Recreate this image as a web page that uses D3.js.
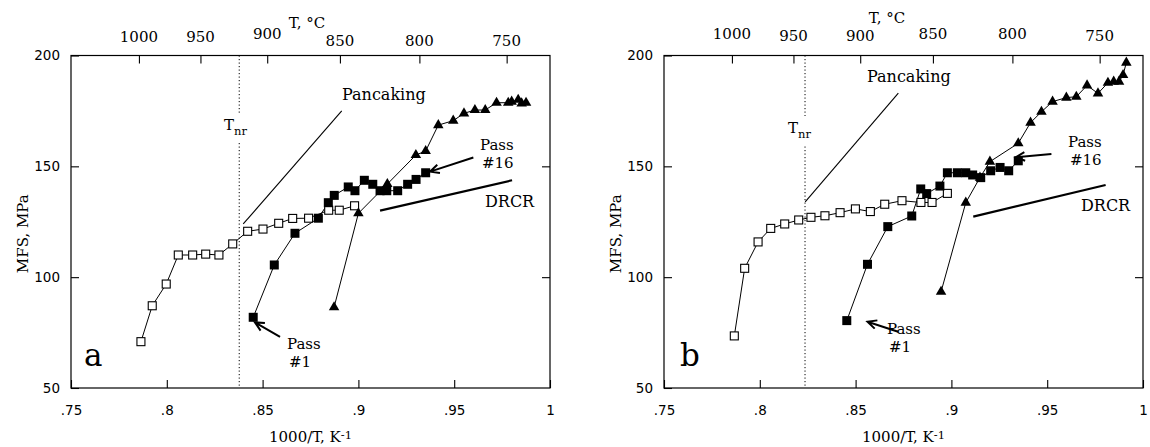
<!DOCTYPE html>
<html><head><meta charset="utf-8">
<script src="https://cdn.jsdelivr.net/npm/d3@7"></script>
<style>body{margin:0;background:#fff}svg{display:block}</style>
</head><body>
<svg id="chart" width="1150" height="447"></svg>
<script>
// ---------- data ----------
const xTickValues = [0.75, 0.8, 0.85, 0.9, 0.95, 1.0];
const xTickLabels = [".75", ".8", ".85", ".9", ".95", "1"];
const yTickValues = [50, 100, 150, 200];
const topTempTicks = [1000, 950, 900, 850, 800, 750];

// Panel a
const aOpenX = [0.7865, 0.7924, 0.7997, 0.806, 0.8135, 0.8203, 0.8272, 0.8344, 0.8422, 0.8502, 0.8584, 0.8657, 0.874, 0.8845, 0.89, 0.898];
const aOpenY = [70.9, 87.1, 96.9, 110, 110, 110.4, 110, 115, 120.7, 121.7, 124.3, 126.5, 126.6, 130.2, 130.2, 132.2];
const aFilledX = [0.8451, 0.8561, 0.8669, 0.8791, 0.8843, 0.8874, 0.8947, 0.8982, 0.9031, 0.9075, 0.9113, 0.9148, 0.9205, 0.9257, 0.9301, 0.9351];
const aFilledY = [81.9, 105.5, 119.8, 126.6, 133.6, 136.9, 140.7, 139, 143.7, 141.9, 139, 139, 139, 141.9, 144.1, 147.1];
const aTriX = [0.8873, 0.9, 0.9151, 0.93, 0.9351, 0.9417, 0.9495, 0.9551, 0.9608, 0.9662, 0.9721, 0.9782, 0.98, 0.9834, 0.9852, 0.9875];
const aTriY = [86.4, 128.8, 142, 155.1, 156.9, 168.6, 170.6, 173.9, 175.4, 175.4, 178.7, 178.7, 179.2, 180, 178.4, 178.7];
const aTnr = 0.8378;
const aPancaking = [[0.8399, 124], [0.8913, 175]];
const aDRCR = [[0.9113, 130], [0.9802, 143.7]];
const aPass1Arrow = [[0.8591, 73.1], [0.846, 79.6]];
const aPass16Arrow = [[0.96, 154], [0.9374, 147.6]];

// Panel b
const bOpenX = [0.7867, 0.7921, 0.7991, 0.8057, 0.813, 0.8203, 0.8267, 0.834, 0.8419, 0.8499, 0.8577, 0.8652, 0.8742, 0.8841, 0.8899, 0.8979];
const bOpenY = [73.5, 104, 115.9, 122, 124, 125.8, 127, 127.7, 129.1, 130.8, 129.6, 132.9, 134.5, 133.7, 133.7, 137.8];
const bFilledX = [0.8454, 0.8562, 0.8668, 0.8793, 0.884, 0.8871, 0.894, 0.8979, 0.9031, 0.9075, 0.9111, 0.9153, 0.9205, 0.9254, 0.9299, 0.9349];
const bFilledY = [80.4, 105.8, 122.8, 127.6, 139.8, 137.7, 141.1, 147.1, 147.1, 147.1, 146.1, 144.9, 148, 149.5, 148, 152.5];
const bTriX = [0.8946, 0.9075, 0.9149, 0.9201, 0.9349, 0.9413, 0.947, 0.9528, 0.96, 0.9652, 0.9708, 0.9765, 0.9817, 0.9847, 0.9875, 0.9896, 0.9913];
const bTriY = [93.4, 133.6, 144.9, 152.1, 160.4, 169.7, 174.6, 179.2, 181, 181.4, 186.5, 182.9, 187.7, 188.2, 188.2, 191.2, 196.8];
const bTnr = 0.8236;
const bPancaking = [[0.8237, 134], [0.8723, 183]];
const bDRCR = [[0.9114, 127.3], [0.9805, 141.6]];
const bPass1Arrow = [[0.8722, 75.4], [0.8562, 79.9]];
const bPass16Arrow = [[0.9522, 155.6], [0.9336, 154.1]];

// ---------- layout ----------
const SERIF = "'DejaVu Serif', 'Liberation Serif', serif";
const SANS = "'DejaVu Sans', Verdana, sans-serif";
const svg = d3.select("#chart");
svg.append("rect").attr("width", 1150).attr("height", 447).attr("fill", "#fff");

const zip = (xs, ys) => xs.map((x, i) => [x, ys[i]]);

const panels = [
  { left: 71, right: 550, letter: "a",
    open: zip(aOpenX, aOpenY), filled: zip(aFilledX, aFilledY), tri: zip(aTriX, aTriY),
    tnr: aTnr, pancaking: aPancaking, drcr: aDRCR, p1: aPass1Arrow, p16: aPass16Arrow,
    topDy: [36, 36, 33, 40, 40, 40], topTitle: {x: 307, y: 22},
    pancText: {x: 342, y: 100}, drcrText: {x: 485, y: 207},
    p16Text: {x: 480, y: 150}, p1Text: {x: 287, y: 349},
    tnrText: {x: 224, y: 130}, yTitleX: 23, letterPos: {x: 84, y: 366} },
  { left: 664, right: 1143, letter: "b",
    open: zip(bOpenX, bOpenY), filled: zip(bFilledX, bFilledY), tri: zip(bTriX, bTriY),
    tnr: bTnr, pancaking: bPancaking, drcr: bDRCR, p1: bPass1Arrow, p16: bPass16Arrow,
    topDy: [33, 35, 35, 33, 33, 35], topTitle: {x: 887, y: 17},
    pancText: {x: 867, y: 82}, drcrText: {x: 1081, y: 211},
    p16Text: {x: 1068, y: 147}, p1Text: {x: 887, y: 334},
    tnrText: {x: 788, y: 133}, yTitleX: 616, letterPos: {x: 680, y: 366} }
];
const TOP = 55.5, BOTTOM = 388;

panels.forEach(p => {
  const g = svg.append("g");
  const x = d3.scaleLinear().domain([0.75, 1.0]).range([p.left, p.right]);
  const y = d3.scaleLinear().domain([50, 200]).range([BOTTOM, TOP]);

  // frame
  g.append("rect").attr("x", p.left).attr("y", TOP)
    .attr("width", p.right - p.left).attr("height", BOTTOM - TOP)
    .attr("fill", "none").attr("stroke", "#000").attr("stroke-width", 1.2);

  // bottom axis (ticks inward)
  const bottomAxis = d3.axisBottom(x).tickValues(xTickValues)
    .tickFormat((d, i) => xTickLabels[i]).tickSizeInner(-8).tickSizeOuter(0).tickPadding(17);
  const bA = g.append("g").attr("transform", `translate(0,${BOTTOM})`).call(bottomAxis);
  bA.select(".domain").remove();
  bA.selectAll("text").attr("font-family", SANS).attr("font-size", 13.5).attr("fill", "#000");

  // left axis
  const leftAxis = d3.axisLeft(y).tickValues(yTickValues).tickSizeInner(-8).tickSizeOuter(0).tickPadding(11);
  const lA = g.append("g").attr("transform", `translate(${p.left},0)`).call(leftAxis);
  lA.select(".domain").remove();
  lA.selectAll("text").attr("font-family", SANS).attr("font-size", 13.5).attr("fill", "#000");

  // right ticks
  const rightAxis = d3.axisRight(y).tickValues([100, 150]).tickSizeInner(-8).tickSizeOuter(0).tickFormat("");
  const rA = g.append("g").attr("transform", `translate(${p.right},0)`).call(rightAxis);
  rA.select(".domain").remove();

  // top temperature axis
  const topAxis = d3.axisTop(x).tickValues(topTempTicks.map(t => 1000 / (t + 273.15)))
    .tickSizeInner(-8).tickSizeOuter(0).tickFormat("");
  const tA = g.append("g").attr("transform", `translate(0,${TOP})`).call(topAxis);
  tA.select(".domain").remove();
  g.append("g").selectAll("text").data(topTempTicks).join("text")
    .attr("x", t => x(1000 / (t + 273.15))).attr("y", (t, i) => p.topDy[i] + 5.5)
    .attr("text-anchor", "middle").attr("font-family", SERIF).attr("font-size", 15)
    .text(t => t);
  g.append("text").attr("x", p.topTitle.x).attr("y", p.topTitle.y + 5.5)
    .attr("text-anchor", "middle").attr("font-family", SERIF).attr("font-size", 15).text("T, °C");

  g.selectAll(".tick line").attr("stroke", "#000").attr("stroke-width", 1.1);

  // axis titles
  const xt = g.append("text").attr("x", (p.left + p.right) / 2).attr("y", 442)
    .attr("text-anchor", "middle").attr("font-family", SERIF).attr("font-size", 15);
  xt.append("tspan").text("1000/T, K");
  xt.append("tspan").attr("font-size", 11.5).attr("dy", -3).text("-1");
  g.append("text").attr("transform", `translate(${p.yTitleX + 5},${(TOP + BOTTOM) / 2 + 12}) rotate(-90)`)
    .attr("text-anchor", "middle").attr("font-family", SERIF).attr("font-size", 15).text("MFS, MPa");

  // Tnr dotted line with label
  g.append("line").attr("x1", x(p.tnr)).attr("x2", x(p.tnr)).attr("y1", TOP).attr("y2", BOTTOM)
    .attr("stroke", "#000").attr("stroke-width", 1).attr("stroke-dasharray", "1.2,2.3");
  g.append("rect").attr("x", p.tnrText.x - 1).attr("y", p.tnrText.y - 17).attr("width", 28).attr("height", 30).attr("fill", "#fff");
  const tn = g.append("text").attr("x", p.tnrText.x).attr("y", p.tnrText.y)
    .attr("font-family", SERIF).attr("font-size", 15);
  tn.append("tspan").text("T");
  tn.append("tspan").attr("font-size", 11.5).attr("dy", 5).text("nr");

  // reference lines
  const line = d3.line().x(d => x(d[0])).y(d => y(d[1]));
  g.append("path").attr("d", line(p.pancaking)).attr("fill", "none").attr("stroke", "#000").attr("stroke-width", 1.1);
  g.append("path").attr("d", line(p.drcr)).attr("fill", "none").attr("stroke", "#000").attr("stroke-width", 2.2);

  // series lines
  [p.open, p.filled, p.tri].forEach(s => {
    g.append("path").attr("d", line(s)).attr("fill", "none").attr("stroke", "#000").attr("stroke-width", 1);
  });

  // markers
  const S = 8;
  g.append("g").selectAll("rect").data(p.open).join("rect")
    .attr("x", d => x(d[0]) - S / 2).attr("y", d => y(d[1]) - S / 2)
    .attr("width", S).attr("height", S).attr("fill", "#fff").attr("stroke", "#000").attr("stroke-width", 1.1);
  g.append("g").selectAll("rect").data(p.filled).join("rect")
    .attr("x", d => x(d[0]) - 4.5).attr("y", d => y(d[1]) - 4.5)
    .attr("width", 9).attr("height", 9).attr("fill", "#000");
  const tri = d3.symbol().type(d3.symbolTriangle).size(48);
  g.append("g").selectAll("path").data(p.tri).join("path")
    .attr("transform", d => `translate(${x(d[0])},${y(d[1])})`).attr("d", tri()).attr("fill", "#000");

  // arrows
  function arrow(pts) {
    const x1 = x(pts[0][0]), y1 = y(pts[0][1]), x2 = x(pts[1][0]), y2 = y(pts[1][1]);
    const ang = Math.atan2(y2 - y1, x2 - x1);
    const L = 10, w = 0.45;
    const a1 = [x2 - L * Math.cos(ang - w), y2 - L * Math.sin(ang - w)];
    const a2 = [x2 - L * Math.cos(ang + w), y2 - L * Math.sin(ang + w)];
    g.append("path").attr("d", `M${x1},${y1}L${x2},${y2}M${a1[0]},${a1[1]}L${x2},${y2}L${a2[0]},${a2[1]}`)
      .attr("fill", "none").attr("stroke", "#000").attr("stroke-width", 2);
  }
  arrow(p.p1); arrow(p.p16);

  // annotation texts
  const T = (pos, str, size) => g.append("text").attr("x", pos.x).attr("y", pos.y)
    .attr("font-family", SERIF).attr("font-size", size || 16).text(str);
  T(p.pancText, "Pancaking");
  T(p.drcrText, "DRCR");
  T(p.p16Text, "Pass", 15);
  T({x: p.p16Text.x + 2, y: p.p16Text.y + 18}, "#16", 15);
  T(p.p1Text, "Pass", 15);
  T({x: p.p1Text.x + 2, y: p.p1Text.y + 18}, "#1", 15);
  T(p.letterPos, p.letter, 31);
});
</script>
</body></html>
